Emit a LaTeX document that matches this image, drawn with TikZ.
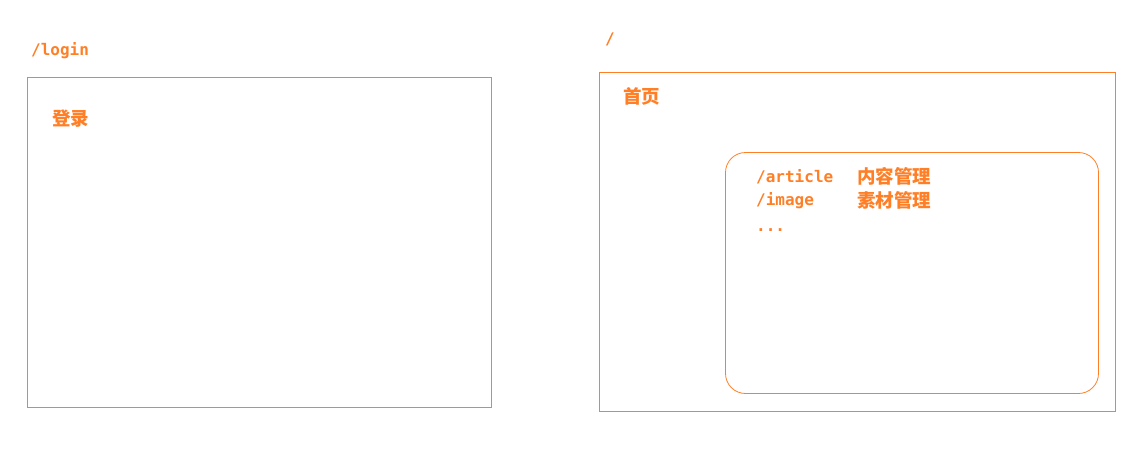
\documentclass[tikz,border=0pt]{standalone}
\usepackage{fontspec}
\setmonofont{DejaVu Sans Mono}
\newfontfamily\cjk{Noto Sans CJK SC}
\definecolor{org}{RGB}{255,127,39}
\begin{document}
\begin{tikzpicture}[x=1pt,y=-1pt,
  frame/.style={draw=org, line width=0.8pt},
  lat/.style={anchor=base west, inner sep=0pt, text=org, font=\ttfamily\bfseries\fontsize{16}{18}\selectfont},
  han/.style={anchor=base west, inner sep=0pt, text=org, font=\cjk\bfseries\fontsize{18.5}{20}\selectfont}]
\useasboundingbox (0,0) rectangle (1146,452);
\node[lat] (lpath) at (31,56) {/login};
\draw[frame] (27.5,77.5) rectangle (491.5,407.5);
\node[han] (ltitle) at (52,125) {登录};

\node[lat] (hpath) at (605,45) {/};
\draw[frame] (599.5,72.5) rectangle (1115.5,411.5);
\node[han] (htitle) at (623,103) {首页};
\draw[frame, rounded corners=20pt] (725.5,152.5) rectangle (1098.5,393.5);
\node[lat] (a1) at (756,182) {/article};
\node[han] (b1) at (857,183) {内容管理};
\node[lat] (a2) at (756,205) {/image};
\node[han] (b2) at (857,207) {素材管理};
\node[lat] (a3) at (756,231) {...};
\end{tikzpicture}
\end{document}
